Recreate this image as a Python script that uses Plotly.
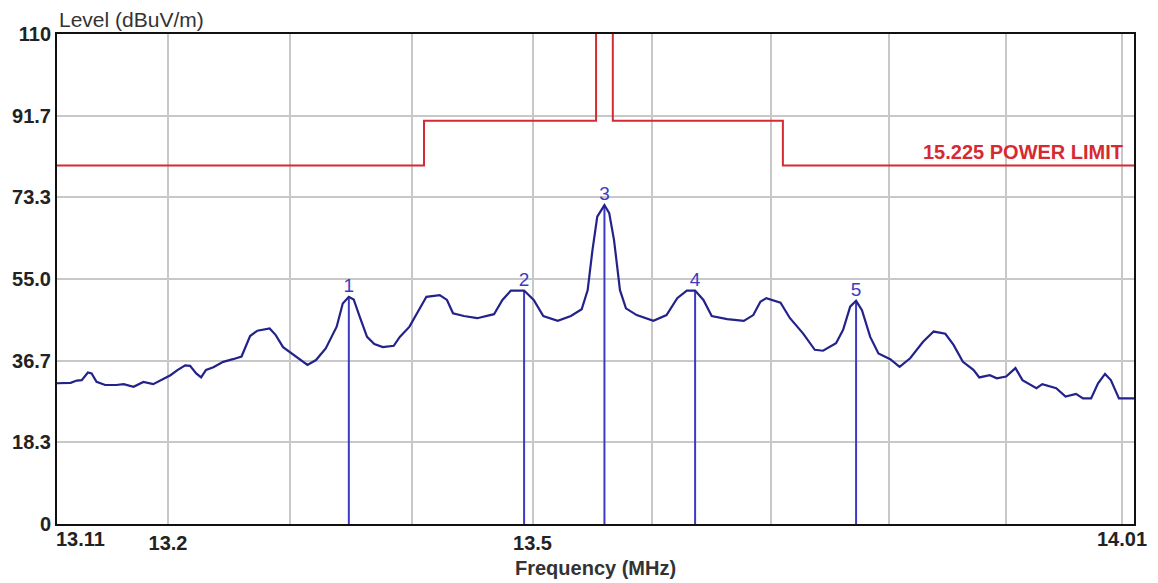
import math
import plotly.graph_objects as go

# Measured spectrum (frequency in MHz, level in dBuV/m)
freq = [13.110, 13.121, 13.126, 13.130, 13.135, 13.138, 13.142, 13.149, 13.158, 13.164,
        13.172, 13.180, 13.188, 13.194, 13.202, 13.208, 13.214, 13.218, 13.223, 13.227,
        13.231, 13.237, 13.245, 13.253, 13.260, 13.267, 13.273, 13.283, 13.288, 13.294,
        13.305, 13.314, 13.321, 13.329, 13.338, 13.343, 13.348, 13.352, 13.357, 13.363,
        13.369, 13.376, 13.385, 13.390, 13.398, 13.407, 13.412, 13.423, 13.429, 13.434,
        13.443, 13.454, 13.468, 13.475, 13.482, 13.493, 13.501, 13.509, 13.521, 13.532,
        13.541, 13.546, 13.550, 13.554, 13.560, 13.564, 13.568, 13.573, 13.578, 13.587,
        13.601, 13.612, 13.621, 13.629, 13.636, 13.643, 13.650, 13.663, 13.677, 13.685,
        13.691, 13.696, 13.708, 13.716, 13.727, 13.737, 13.744, 13.755, 13.761, 13.767,
        13.772, 13.777, 13.784, 13.791, 13.801, 13.809, 13.818, 13.829, 13.838, 13.848,
        13.855, 13.863, 13.872, 13.877, 13.886, 13.892, 13.900, 13.908, 13.914, 13.926,
        13.931, 13.943, 13.951, 13.960, 13.966, 13.973, 13.979, 13.985, 13.990, 13.997,
        14.010]
level = [31.6, 31.7, 32.2, 32.3, 34.0, 33.8, 31.9, 31.2, 31.2, 31.4,
         30.8, 31.9, 31.4, 32.3, 33.4, 34.6, 35.6, 35.5, 33.8, 32.9,
         34.6, 35.2, 36.4, 37.0, 37.6, 42.2, 43.4, 43.9, 42.4, 39.7,
         37.6, 35.7, 36.8, 39.4, 44.3, 49.5, 51.0, 50.4, 46.5, 42.0,
         40.4, 39.7, 40.0, 42.0, 44.3, 48.8, 51.0, 51.4, 50.3, 47.3,
         46.7, 46.2, 47.1, 50.3, 52.4, 52.4, 50.3, 46.7, 45.6, 46.7,
         48.2, 52.5, 61.5, 69.0, 71.6, 69.8, 63.8, 52.5, 48.4, 46.9,
         45.6, 46.9, 50.7, 52.4, 52.4, 50.3, 46.7, 46.0, 45.6, 46.9,
         49.9, 50.7, 49.7, 46.2, 42.8, 39.1, 38.9, 40.6, 43.6, 48.8,
         50.1, 48.0, 42.0, 38.3, 37.0, 35.3, 37.2, 40.9, 43.2, 42.7,
         40.2, 36.4, 34.6, 32.9, 33.4, 32.7, 33.1, 35.0, 32.3, 30.5,
         31.4, 30.5, 28.6, 29.2, 28.2, 28.2, 31.6, 33.7, 32.3, 28.2,
         28.2]

# 15.225 limit (dBuV/m)
limit_freq = [13.11, 13.41, 13.41, 13.553, 13.553, 13.567, 13.567, 13.71, 13.71, 14.01]
limit_level = [80.5, 80.5, 90.5, 90.5, 124.0, 124.0, 90.5, 90.5, 80.5, 80.5]
limit_label = "15.225 POWER LIMIT"

# Markers
marker_ids = ["1", "2", "3", "4", "5"]
marker_freq = [13.348, 13.493, 13.560, 13.636, 13.772]
marker_level = [51.0, 52.4, 71.6, 52.4, 50.1]

# Axes
x_min, x_max = 13.11, 14.01
x_grid = [13.2, 13.3, 13.4, 13.5, 13.6, 13.7, 13.8, 13.9, 14.0]
x_grid_text = ["13.2", "", "", "13.5", "", "", "", "", ""]
y_ticks = [0, 18.3, 36.7, 55.0, 73.3, 91.7, 110]
y_tick_text = ["0", "18.3", "36.7", "55.0", "73.3", "91.7", "110"]

TRACE = "#22228a"
MARK = "#3b3bc4"
RED = "#d62a32"
FONT = "Liberation Sans, Arial, sans-serif"

fig = go.Figure()

fig.add_trace(go.Scatter(x=limit_freq, y=limit_level, mode="lines",
                         line=dict(color=RED, width=2), hoverinfo="skip"))

mx, my = [], []
for f, l in zip(marker_freq, marker_level):
    mx += [f, f, None]
    my += [0, l, None]
fig.add_trace(go.Scatter(x=mx, y=my, mode="lines",
                         line=dict(color=MARK, width=2), hoverinfo="skip"))

fig.add_trace(go.Scatter(x=freq, y=level, mode="lines",
                         line=dict(color=TRACE, width=2.2)))

fig.add_trace(go.Scatter(x=marker_freq, y=marker_level, mode="text",
                         text=marker_ids, textposition="top center",
                         textfont=dict(color=MARK, size=19, family=FONT),
                         hoverinfo="skip"))

fig.update_xaxes(type="log", range=[math.log10(x_min), math.log10(x_max)],
                 tickvals=x_grid, ticktext=x_grid_text, automargin=False,
                 showgrid=True, gridcolor="#c8c8c8", gridwidth=1.5,
                 showline=True, linecolor="#111", linewidth=2, mirror=True,
                 ticks="", zeroline=False,
                 tickfont=dict(size=20, family=FONT, color="#222", weight="bold"))
fig.update_yaxes(range=[0, 110], tickvals=y_ticks, ticktext=y_tick_text, automargin=False,
                 showgrid=True, gridcolor="#c8c8c8", gridwidth=1.5,
                 showline=True, linecolor="#111", linewidth=2, mirror=True,
                 ticks="", zeroline=False,
                 tickfont=dict(size=20, family=FONT, color="#222", weight="bold"))

fig.add_annotation(x=0, y=1, xref="paper", yref="paper", xanchor="left", yanchor="bottom",
                   text="Level (dBuV/m)", showarrow=False, yshift=1,
                   font=dict(size=21, family=FONT, color="#333"))
fig.add_annotation(x=0.5, y=0, xref="paper", yref="paper", xanchor="center", yanchor="middle",
                   text="<b>Frequency (MHz)</b>", showarrow=False, yshift=-44,
                   font=dict(size=20, family=FONT, color="#333"))
fig.add_annotation(x=math.log10(x_min), y=0, xref="x", yref="paper", xanchor="left", yanchor="top",
                   text="<b>13.11</b>", showarrow=False, yshift=-2, xshift=-3,
                   font=dict(size=20, family=FONT, color="#222"))
fig.add_annotation(x=math.log10(x_max), y=0, xref="x", yref="paper", xanchor="right", yanchor="top",
                   text="<b>14.01</b>", showarrow=False, yshift=-2, xshift=15,
                   font=dict(size=20, family=FONT, color="#222"))
fig.add_annotation(x=math.log10(14.0), y=limit_level[-1], xref="x", yref="y",
                   xanchor="right", yanchor="bottom", yshift=0, xshift=3,
                   text="<b>" + limit_label + "</b>", showarrow=False,
                   font=dict(size=20, family=FONT, color=RED))

# page has an 8px body margin; compensate so the plot area sits where the reference has it
fig.update_layout(width=1150, height=575, margin=dict(l=49, r=24, t=26, b=59),
                  plot_bgcolor="white", paper_bgcolor="white", showlegend=False,
                  font=dict(family=FONT))

fig.write_html("out.html")
